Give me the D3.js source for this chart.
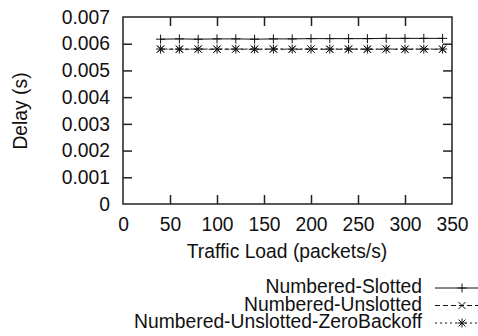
<!DOCTYPE html>
<html>
<head>
<meta charset="utf-8">
<script src="https://cdn.jsdelivr.net/npm/d3@7"></script>
<style>
  body { margin: 0; background: #fff; }
  svg text { font-family: "Liberation Sans", Arial, Helvetica, sans-serif; fill: #111; }
</style>
</head>
<body>
<div id="chart"></div>
<script>
// traffic loads (packets/s)
var loads = [40, 60, 80, 100, 120, 140, 160, 180, 200, 220, 240, 260, 280, 300, 320, 340];

// delay (s) per series
var slotted   = [0.00617, 0.00618, 0.00617, 0.00618, 0.00618, 0.00617, 0.00618, 0.00618,
                 0.00619, 0.00619, 0.00619, 0.00619, 0.00620, 0.00620, 0.00620, 0.00620];
var unslotted = [0.00580, 0.00579, 0.00580, 0.00579, 0.00580, 0.00579, 0.00580, 0.00579,
                 0.00580, 0.00579, 0.00580, 0.00579, 0.00580, 0.00579, 0.00580, 0.00579];
var zeroBackoff = [0.00580, 0.00580, 0.00580, 0.00580, 0.00580, 0.00580, 0.00580, 0.00580,
                   0.00580, 0.00580, 0.00580, 0.00580, 0.00580, 0.00580, 0.00580, 0.00580];

var seriesNames = ["Numbered-Slotted", "Numbered-Unslotted", "Numbered-Unslotted-ZeroBackoff"];
var xTicks = [0, 50, 100, 150, 200, 250, 300, 350];
var yTicks = [0, 0.001, 0.002, 0.003, 0.004, 0.005, 0.006, 0.007];

var width = 478, height = 336;
var margin = {top: 17, right: 26, bottom: 132, left: 123};
var plotW = width - margin.left - margin.right;
var plotH = height - margin.top - margin.bottom;

var svg = d3.select("#chart").append("svg")
    .attr("width", width)
    .attr("height", height);

var g = svg.append("g")
    .attr("transform", "translate(" + margin.left + "," + margin.top + ")");

var x = d3.scaleLinear().domain([0, 350]).range([0, plotW]);
var y = d3.scaleLinear().domain([0, 0.007]).range([plotH, 0]);

var fontSize = "19.3px";

// axes, ticks pointing inward (gnuplot style, mirrored)
var xAxis = g.append("g")
    .attr("transform", "translate(0," + plotH + ")")
    .call(d3.axisBottom(x).tickValues(xTicks).tickSize(-9).tickPadding(13).tickFormat(d3.format("d")));
var yAxis = g.append("g")
    .call(d3.axisLeft(y).tickValues(yTicks).tickSize(-9).tickPadding(13)
        .tickFormat(function(d){ return d === 0 ? "0" : d3.format(".3f")(d); }));
var xTop = g.append("g")
    .call(d3.axisTop(x).tickValues(xTicks.slice(1, -1)).tickSize(-9).tickFormat(""));
var yRight = g.append("g")
    .attr("transform", "translate(" + plotW + ",0)")
    .call(d3.axisRight(y).tickValues(yTicks.slice(1, -1)).tickSize(-9).tickFormat(""));

[xAxis, yAxis, xTop, yRight].forEach(function(a){
    a.select(".domain").remove();
    a.selectAll(".tick line").attr("stroke", "#222").attr("stroke-width", 1.5);
    a.selectAll(".tick text").style("font-size", fontSize).attr("fill", "#111");
});
xAxis.selectAll(".tick").filter(function(d){ return d === 0 || d === 350; }).select("line").remove();
yAxis.selectAll(".tick").filter(function(d){ return d === 0 || d === 0.007; }).select("line").remove();

// border
g.append("rect")
    .attr("width", plotW)
    .attr("height", plotH)
    .attr("fill", "none")
    .attr("stroke", "#222")
    .attr("stroke-width", 1.5);

// axis titles
svg.append("text")
    .attr("x", margin.left + plotW / 2 - 0.5)
    .attr("y", 258)
    .attr("text-anchor", "middle")
    .style("font-size", fontSize)
    .text("Traffic Load (packets/s)");

svg.append("text")
    .attr("transform", "translate(27,111) rotate(-90)")
    .attr("text-anchor", "middle")
    .style("font-size", fontSize)
    .text("Delay (s)");

// markers
var markers = {
    plus: "M-4.5,0H4.5M0,-4.5V4.5",
    cross: "M-3.5,-3.5L3.5,3.5M-3.5,3.5L3.5,-3.5",
    star: "M-4.5,0H4.5M0,-4.5V4.5M-3.5,-3.5L3.5,3.5M-3.5,3.5L3.5,-3.5"
};

var series = [
    {name: seriesNames[0], values: slotted, dash: null, marker: markers.plus},
    {name: seriesNames[1], values: unslotted, dash: "5,3", marker: markers.cross},
    {name: seriesNames[2], values: zeroBackoff, dash: "2,3", marker: markers.star}
];

var line = d3.line()
    .x(function(d, i){ return x(loads[i]); })
    .y(function(d){ return y(d); });

series.forEach(function(s){
    g.append("path")
        .datum(s.values)
        .attr("d", line)
        .attr("fill", "none")
        .attr("stroke", "#111")
        .attr("stroke-width", 1)
        .attr("stroke-dasharray", s.dash);

    g.selectAll(null)
        .data(s.values)
        .enter().append("path")
        .attr("transform", function(d, i){ return "translate(" + x(loads[i]) + "," + y(d) + ")"; })
        .attr("d", s.marker)
        .attr("fill", "none")
        .attr("stroke", "#111")
        .attr("stroke-width", 1);
});

// legend
var legend = svg.append("g");
var baselines = [293, 310.5, 328];
series.forEach(function(s, i){
    legend.append("text")
        .attr("x", 422)
        .attr("y", baselines[i])
        .attr("text-anchor", "end")
        .style("font-size", fontSize)
        .text(s.name);
    var ly = baselines[i] - 5;
    legend.append("line")
        .attr("x1", 435).attr("x2", 490)
        .attr("y1", ly).attr("y2", ly)
        .attr("stroke", "#111")
        .attr("stroke-width", 1)
        .attr("stroke-dasharray", s.dash);
    legend.append("path")
        .attr("transform", "translate(462," + ly + ")")
        .attr("d", s.marker)
        .attr("fill", "none")
        .attr("stroke", "#111")
        .attr("stroke-width", 1);
});
</script>
</body>
</html>
